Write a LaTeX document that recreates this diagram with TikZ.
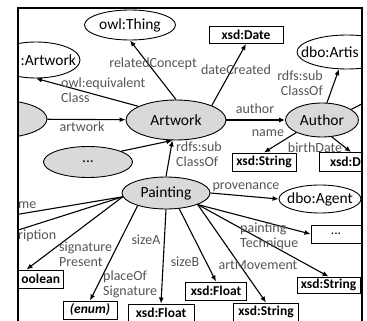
\documentclass[tikz,border=0pt]{standalone}
\usepackage{fontspec}
\setmainfont{Carlito}
\usepackage{tikz}
\usetikzlibrary{arrows.meta}
\usetikzlibrary{shapes.geometric}
\definecolor{ColFill}{RGB}{217,217,217}
\definecolor{ColLabel}{RGB}{85,85,85}
\tikzstyle{ClassNode}=[ellipse,draw=black,fill=ColFill,line width=0.9pt,inner xsep=-12pt,inner ysep=0pt,
font=\fontsize{15.5}{17}\selectfont]
\tikzstyle{OntoNode}=[ellipse,draw=black,fill=white,line width=0.9pt,inner xsep=-12pt,inner ysep=0pt,
font=\fontsize{15.5}{17}\selectfont]
\tikzstyle{TypeBox}=[rectangle,draw=black,fill=white,line width=1pt,inner sep=0pt,
font=\fontsize{13.5}{15}\selectfont\bfseries]
\tikzstyle{PropEdge}=[-{Latex[length=6pt,width=5pt]},line width=1.1pt]
\tikzstyle{PropLabel}=[text=ColLabel,inner sep=0pt,align=left,font=\fontsize{14}{15}\selectfont]

\begin{document}
\begin{tikzpicture}[x=1pt,y=-1pt]
    \useasboundingbox(0,0)rectangle(367,321);
    \begin{scope}
        \clip(18,8)rectangle(362,321);
        % classes
        \node[ClassNode,minimum width=100pt,minimum height=40pt](artwork)at(176,120){Artwork};
        \node[ClassNode,minimum width=73pt,minimum height=34pt](author)at(322,120){Author};
        \node[ClassNode,minimum width=88pt,minimum height=32pt](painting)at(166,193){Painting};
        \node[ClassNode,minimum width=89pt,minimum height=31pt](others)at(88,162){...};
        \node[ClassNode,minimum width=100pt,minimum height=38pt](source)at(-3,119){};
        % outside vocabularies
        \node[OntoNode,minimum width=91pt,minimum height=30pt](thing)at(130,25){owl:Thing};
        \node[OntoNode,minimum width=88pt,minimum height=36pt,text width=80pt,align=right,
            inner xsep=-38pt](artworkdbo)at(36,60){:Artwork};
        \node[OntoNode,minimum width=100pt,minimum height=34pt,text width=92pt,align=left,
            inner xsep=-44pt](artist)at(347,52){dbo:Artis};
        \node[OntoNode,minimum width=82pt,minimum height=28pt](agent)at(320,199){dbo:Agent};
        % datatypes
        \node[TypeBox,minimum width=74pt,minimum height=17pt](date)at(246,35){xsd:Date};
        \node[TypeBox,minimum width=64pt,minimum height=18pt](stringN)at(264,162){xsd:String};
        \node[TypeBox,minimum width=64pt,minimum height=19pt,text width=42pt,align=left](dateB)at(351,162){xsd:D};
        \node[TypeBox,minimum width=50pt,minimum height=18pt,font=\fontsize{13.5}{15}\selectfont](more)at(336,234){...};
        \node[TypeBox,minimum width=63pt,minimum height=16pt](stringR)at(328.5,285){xsd:String};
        \node[TypeBox,minimum width=65pt,minimum height=18pt](stringB)at(266,312){xsd:String};
        \node[TypeBox,minimum width=61pt,minimum height=18pt](floatB)at(216,291){xsd:Float};
        \node[TypeBox,minimum width=66pt,minimum height=18pt](floatA)at(161,313){xsd:Float};
        \node[TypeBox,minimum width=54pt,minimum height=18pt,font=\fontsize{13.5}{15}\selectfont\bfseries\itshape](enum)at(90,310){(enum)};
        \node[TypeBox,minimum width=73pt,minimum height=18pt,text width=67pt,align=right](boolean)at(26.5,279){oolean};
        % loose ends
        \coordinate(authorEnd)at(385,92);
        \coordinate(nameEnd)at(-10,219);
        \coordinate(descEnd)at(-10,239);
        % properties
        \draw[PropEdge](artwork.north)--(thing.south);
        \draw[PropEdge](artwork.160)--(artworkdbo.south);
        \draw[PropEdge](artwork.22)--(date.south);
        \draw[PropEdge](artwork)--(author);
        \draw[PropEdge](source)--(artwork);
        \draw[PropEdge](others.18)--(artwork.260);
        \draw[PropEdge](painting.north)--(artwork.260);
        \draw[PropEdge](author.74)--(artist.245);
        \draw[PropEdge](author.20)--(authorEnd);
        \draw[PropEdge](author.206)--(stringN.north);
        \draw[PropEdge](author.-60)--(dateB.north);
        \draw[PropEdge](painting.east)--(agent.west);
        \draw[PropEdge](painting.185)--(nameEnd);
        \draw[PropEdge](painting.185)--(descEnd);
        \draw[PropEdge](painting.185)--(boolean.north);
        \draw[PropEdge](painting.204)--(enum.north);
        \draw[PropEdge](painting.south)--(floatA.north);
        \draw[PropEdge](painting.-50)--(floatB.north);
        \draw[PropEdge](painting.-20)--(stringB.north);
        \draw[PropEdge](painting.-20)--(stringR.north);
        \draw[PropEdge](painting.-20)--(more.west);
        % labels
        \node[PropLabel](lblConcept)at(153,64){relatedConcept};
        \node[PropLabel](lblCreated)at(236,70){dateCreated};
        \node[PropLabel,anchor=east,align=right](lblSubA)at(323,83){rdfs:sub\\ClassOf};
        \node[PropLabel,anchor=west](lblEquiv)at(61,90){owl:equivalent\\Class};
        \node[PropLabel](lblArtwork)at(82,127){artwork};
        \node[PropLabel](lblAuthor)at(255,109){author};
        \node[PropLabel](lblName)at(268,133){name};
        \node[PropLabel](lblBirth)at(315,148){birthDate};
        \node[PropLabel,anchor=west](lblSubB)at(176,154){rdfs:sub\\ClassOf};
        \node[PropLabel](lblProv)at(246,187){provenance};
        \node[PropLabel,anchor=west](lblTech)at(240,236){painting\\Technique};
        \node[PropLabel](lblMove)at(258,265){artMovement};
        \node[PropLabel](lblSizeB)at(185,262){sizeB};
        \node[PropLabel](lblSizeA)at(146,240){sizeA};
        \node[PropLabel,anchor=west](lblPlace)at(103,284){placeOf\\Signature};
        \node[PropLabel,anchor=west](lblSign)at(59,254){signature\\Present};
        \node[PropLabel,anchor=west](lblDesc)at(18,236){ription};
        \node[PropLabel,anchor=west](lblNm)at(18,205){me};
    \end{scope}
    \draw[line width=1.4pt](18,321)--(18,8)--(362,8)--(362,321);
\end{tikzpicture}
\end{document}
